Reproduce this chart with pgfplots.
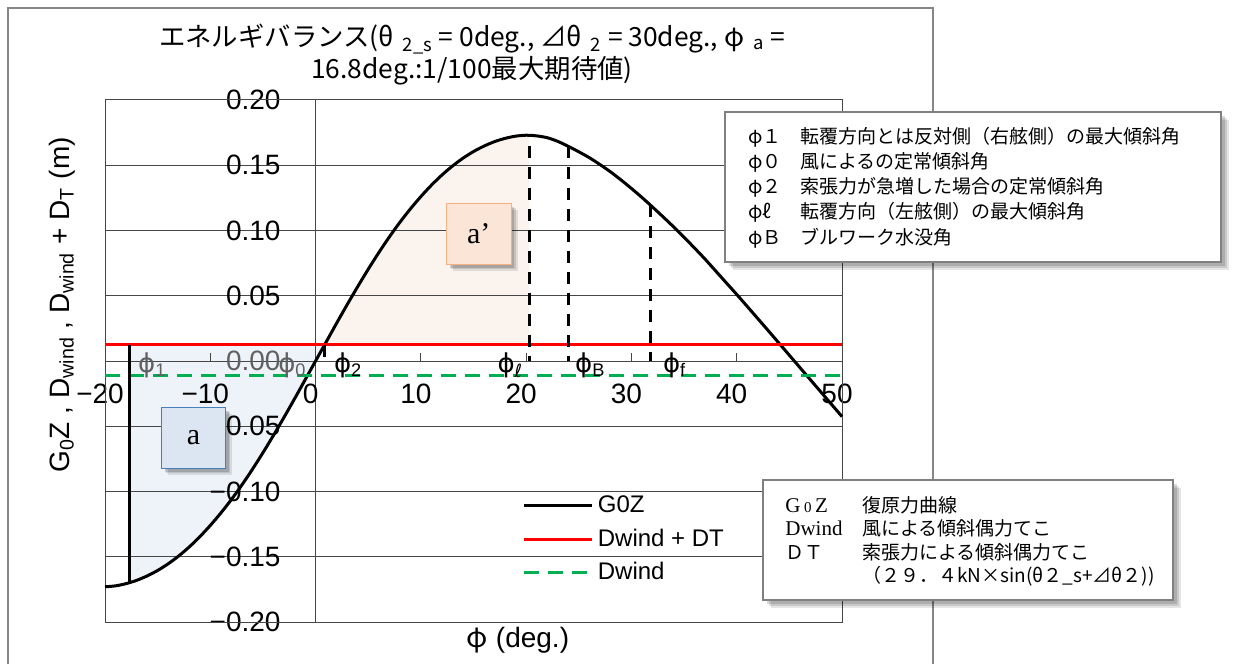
\documentclass[border=0pt]{standalone}
\usepackage{pgfplots}
\pgfplotsset{compat=1.18}
\usetikzlibrary{shadows}
\usepackage{fontspec}
\setmainfont{Liberation Sans}
\newfontfamily\jp{Noto Sans CJK JP}
\newfontfamily\dv{DejaVu Sans}
\newfontfamily\lserif{Liberation Serif}

\definecolor{gridc}{RGB}{70,70,70}
\definecolor{fillblue}{RGB}{238,243,250}
\definecolor{fillpeach}{RGB}{251,244,238}
\definecolor{boxblue}{RGB}{220,230,242}
\definecolor{boxblueedge}{RGB}{74,126,187}
\definecolor{boxpeach}{RGB}{251,229,214}
\definecolor{boxpeachedge}{RGB}{244,177,131}
\definecolor{dwindgreen}{RGB}{0,176,80}
\definecolor{framegray}{RGB}{134,134,134}
\definecolor{boxgray}{RGB}{128,128,128}

% soft shadow built from a few stacked translucent copies
\tikzset{soft shadow/.style={
  drop shadow={shadow xshift=#1*1.6, shadow yshift=-#1*1.6, opacity=0.10, fill=black},
  drop shadow={shadow xshift=#1*1.2, shadow yshift=-#1*1.2, opacity=0.12, fill=black},
  drop shadow={shadow xshift=#1*0.8, shadow yshift=-#1*0.8, opacity=0.14, fill=black}}}

\begin{document}
\begin{tikzpicture}
% chart area frame
\begin{scope}[x=0.5pt,y=-0.5pt,yshift=332pt]
  \draw[framegray, line width=0.8pt] (8,664) -- (8,8) -- (933,8) -- (933,664);
\end{scope}

\begin{axis}[
  set layers,
  at={(52.5pt,21pt)}, anchor=south west,
  scale only axis, width=368.5pt, height=261pt,
  xmin=-20, xmax=50, ymin=-0.2, ymax=0.2,
  axis lines=middle,
  axis line style={-, gridc, line width=0.5pt},
  every inner x axis line/.append style={-},
  every inner y axis line/.append style={-},
  hide obscured x ticks=false, hide obscured y ticks=false,
  xtick={-20,-10,0,10,20,30,40,50},
  xticklabels={−20,−10,0,10,20,30,40,50},
  ytick={-0.2,-0.15,-0.1,-0.05,0,0.05,0.1,0.15,0.2},
  yticklabels={−0.20,−0.15,−0.10,−0.05,\textcolor{black!62}{0.00},0.05,0.10,0.15,0.20},
  tick label style={font=\fontsize{14}{16}\selectfont},
  xticklabel style={anchor=north, yshift=-6pt, xshift=-2.5pt},
  yticklabel style={anchor=east, xshift=-12pt},
  ymajorgrids, major grid style={gridc, line width=0.5pt},
  tick align=center, major tick length=4pt,
  xtick style={gridc, line width=0.5pt, yshift=2pt},
  ytick style={draw=none},
  clip=false,
  legend style={at={(axis cs:19.65,-0.1)}, anchor=north west, draw=none, fill=none,
    font=\fontsize{12}{14}\selectfont, row sep=2.6pt, inner sep=0pt,
    nodes={inner sep=2pt}},
  legend cell align=left,
  legend image code/.code={\draw[#1] (0pt,0pt) -- (34pt,0pt);},
]
% frame of the plot area
\draw[gridc, line width=0.5pt] (rel axis cs:0,0) rectangle (rel axis cs:1,1);

% area a : between the heeling lever and the righting lever, phi1 .. phi2
\addplot[on layer=axis background, draw=none, fill=fillblue, forget plot] coordinates {
  (-17.66,0.0126) (-17.66,-0.1700) (-17,-0.1681) (-16,-0.1647) (-15,-0.1605)
  (-14,-0.1554) (-13,-0.1494) (-12,-0.1425) (-11,-0.1347) (-10,-0.1260)
  (-9,-0.1165) (-8,-0.1062) (-7,-0.0950) (-6,-0.0830) (-5,-0.0703)
  (-4,-0.0570) (-3,-0.0432) (-2,-0.0290) (-1,-0.0145) (0,0) (0.85,0.0126)
} -- cycle;
% area a' : between the righting lever and the heeling lever, phi2 .. phi_l
\addplot[on layer=axis background, draw=none, fill=fillpeach, forget plot] coordinates {
  (0.85,0.0126) (1,0.0145) (2,0.0290) (3,0.0432) (4,0.0570) (5,0.0703)
  (6,0.0830) (7,0.0950) (8,0.1062) (9,0.1165) (10,0.1260) (11,0.1347)
  (12,0.1425) (13,0.1494) (14,0.1554) (15,0.1605) (16,0.1647) (17,0.1681)
  (18,0.1706) (19,0.1723) (20,0.1730) (20.3,0.1729) (20.3,0.0126)
} -- cycle;

% righting lever curve G0Z
\addplot[black, line width=1.5pt, smooth] coordinates {
  (-20,-0.1730) (-19,-0.1723) (-18,-0.1706) (-17,-0.1681) (-16,-0.1647)
  (-15,-0.1605) (-14,-0.1554) (-13,-0.1494) (-12,-0.1425) (-11,-0.1347)
  (-10,-0.1260) (-9,-0.1165) (-8,-0.1062) (-7,-0.0950) (-6,-0.0830)
  (-5,-0.0703) (-4,-0.0570) (-3,-0.0432) (-2,-0.0290) (-1,-0.0145)
  (0,0) (1,0.0145) (2,0.0290) (3,0.0432) (4,0.0570) (5,0.0703)
  (6,0.0830) (7,0.0950) (8,0.1062) (9,0.1165) (10,0.1260) (11,0.1347)
  (12,0.1425) (13,0.1494) (14,0.1554) (15,0.1605) (16,0.1647) (17,0.1681)
  (18,0.1706) (19,0.1723) (20,0.1730) (21,0.1725) (22,0.1711) (23,0.1683)
  (24,0.1645) (25,0.1603) (26,0.1558) (27,0.1506) (28,0.1450) (29,0.1388)
  (30,0.1322) (31,0.1253) (32,0.1180) (33,0.1105) (34,0.1028) (35,0.0948)
  (36,0.0865) (37,0.0780) (38,0.0690) (39,0.0600) (40,0.0510) (41,0.0418)
  (42,0.0325) (43,0.0232) (44,0.0138) (45,0.0044) (46,-0.0050) (47,-0.0144)
  (48,-0.0238) (49,-0.0332) (50,-0.0426)
};
\addlegendentry{G0Z}
\addplot[red, line width=1.5pt] coordinates {(-20,0.0126) (50,0.0126)};
\addlegendentry{Dwind + DT}
\addplot[dwindgreen, line width=1.5pt, dash pattern=on 7.5pt off 4.5pt] coordinates {(-20,-0.011) (50,-0.011)};
\addlegendentry{Dwind}

% characteristic angles
\addplot[black, line width=1.6pt, forget plot] coordinates {(-17.66,-0.1700) (-17.66,0.0126)};
\addplot[black, line width=1.5pt, dash pattern=on 6pt off 4.5pt, forget plot] coordinates {(0.85,0.0126) (0.85,0)};
\addplot[black, line width=1.5pt, dash pattern=on 6pt off 4.5pt, forget plot] coordinates {(20.3,0.165) (20.3,0)};
\addplot[black, line width=1.5pt, dash pattern=on 6pt off 4.5pt, forget plot] coordinates {(24.0,0.1645) (24.0,0)};
\addplot[black, line width=1.5pt, dash pattern=on 6pt off 4.5pt, forget plot] coordinates {(31.8,0.1195) (31.8,0)};

\begin{scope}[font=\fontsize{13}{15}\selectfont]
  \node[text=black!62] at (axis cs:-15.5,-0.003) {{\dv ϕ}\textsubscript{1}};
  \node[text=black!62] at (axis cs:-2.2,-0.003) {{\dv ϕ}\textsubscript{0}};
  \node at (axis cs:3.1,-0.003) {{\dv ϕ}\textsubscript{2}};
  \node at (axis cs:18.5,-0.003) {{\dv ϕ}\textsubscript{\dv ℓ}};
  \node at (axis cs:26.1,-0.003) {{\dv ϕ}\textsubscript{B}};
  \node at (axis cs:34.1,-0.003) {{\dv ϕ}\textsubscript{f}};
\end{scope}
\end{axis}

\begin{scope}[x=0.5pt,y=-0.5pt,yshift=332pt]
  % title
  \node[font=\jp\fontsize{13.2}{15}\selectfont] at (472,39)
    {エネルギバランス(θ\,\,\textsubscript{2\_s} = 0deg., ⊿θ\,\,\textsubscript{2} = 30deg., φ\,\,\textsubscript{a} =};
  \node[font=\jp\fontsize{13.2}{15}\selectfont] at (472,71)
    {16.8deg.:1/100最大期待値)};
  % axis titles
  \node[rotate=90, font=\fontsize{14}{16}\selectfont] at (62,305)
    {G\textsubscript{0}Z , D\textsubscript{wind} , D\textsubscript{wind} + D\textsubscript{T} (m)};
  \node[font=\fontsize{14}{16}\selectfont] at (518,640) {{\jp φ} (deg.)};

  % area labels
  \node[draw=boxblueedge, fill=boxblue, line width=0.5pt, inner sep=0pt,
        minimum width=32pt, minimum height=30.5pt, anchor=north west,
        soft shadow=2pt,
        font=\lserif\fontsize{15}{18}\selectfont] at (161,407) {a};
  \node[draw=boxpeachedge, fill=boxpeach, line width=0.5pt, inner sep=0pt,
        minimum width=32.3pt, minimum height=30.5pt, anchor=north west,
        soft shadow=2pt,
        font=\lserif\fontsize{15}{18}\selectfont] at (446,203) {a’};

  % description of angles
  \draw[boxgray, fill=white, line width=0.6pt, soft shadow=2.6pt]
        (725,112) rectangle (1221,262);
  \begin{scope}[every node/.style={anchor=base west, inner sep=0pt, font=\jp\fontsize{9.5}{11}\selectfont}]
    \node at (748,144) {φ１}; \node at (800,144) {転覆方向とは反対側（右舷側）の最大傾斜角};
    \node at (748,169) {φ０}; \node at (800,169) {風によるの定常傾斜角};
    \node at (748,194) {φ２}; \node at (800,194) {索張力が急増した場合の定常傾斜角};
    \node at (748,219) {φℓ}; \node at (800,219) {転覆方向（左舷側）の最大傾斜角};
    \node at (748,245) {φＢ}; \node at (800,245) {ブルワーク水没角};
  \end{scope}

  % description of levers
  \draw[boxgray, fill=white, line width=0.6pt, soft shadow=2.6pt]
        (763,480) rectangle (1173,600);
  \begin{scope}[every node/.style={anchor=base west, inner sep=0pt, font=\jp\fontsize{9.5}{11}\selectfont}]
    \node[font=\lserif\fontsize{10.5}{12}\selectfont] at (785,512) {G\,{\fontsize{7.5}{8}\selectfont 0}\,Z};
    \node at (862,512) {復原力曲線};
    \node[font=\lserif\fontsize{10.5}{12}\selectfont] at (785,535) {Dwind};
    \node at (862,535) {風による傾斜偶力てこ};
    \node at (785,559) {ＤＴ};
    \node at (862,559) {索張力による傾斜偶力てこ};
    \node at (862,582) {（２９．４kN×sin(θ２\_s+⊿θ２))};
  \end{scope}
\end{scope}

\pgfresetboundingbox
\useasboundingbox (0,0) rectangle (617pt,332pt);
\end{tikzpicture}
\end{document}
